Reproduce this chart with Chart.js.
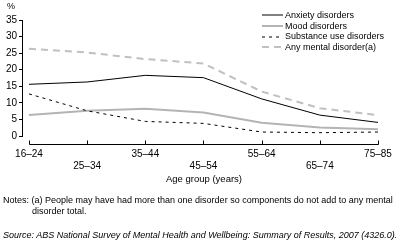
<!DOCTYPE html>
<html>
<head>
<meta charset="utf-8">
<script src="https://cdn.jsdelivr.net/npm/chart.js@4/dist/chart.umd.min.js"></script>
<style>
  html, body { margin:0; padding:0; background:#fff; }
  body { width:397px; height:246px; position:relative; overflow:hidden; font-family:"Liberation Sans", Arial, sans-serif; color:#000; }
  #wrap { position:absolute; left:0; top:0; width:397px; height:190px; }
  .txt { position:absolute; white-space:nowrap; font-size:9px; line-height:10px; }
  #legend { position:absolute; left:262px; top:10px; font-size:9px; line-height:10.7px; }
  #legend div { height:10.7px; display:flex; align-items:center; white-space:nowrap; }
  #legend svg { margin-right:2px; }
</style>
</head>
<body>
<div id="wrap"><canvas id="c"></canvas></div>
<div class="txt" style="left:7px; top:1px; font-size:9px;">%</div>
<div id="legend"></div>
<div class="txt" id="xtitle" style="left:0; width:408px; text-align:center; top:174px; font-size:9.5px;">Age group (years)</div>
<div class="txt" style="left:3px; top:195px;">Notes: (a) People may have had more than one disorder so components do not add to any mental</div>
<div class="txt" style="left:32px; top:206px;">disorder total.</div>
<div class="txt" style="left:3px; top:230px; font-style:italic;">Source: ABS National Survey of Mental Health and Wellbeing: Summary of Results, 2007 (4326.0).</div>
<script>
const categories = ['16–24','25–34','35–44','45–54','55–64','65–74','75–85'];
const anxiety   = [15.6, 16.3, 18.3, 17.6, 11.2, 6.3, 4.1];
const mood      = [6.3, 7.6, 8.2, 7.1, 4.0, 2.6, 2.0];
const substance = [12.7, 7.6, 4.4, 3.8, 1.2, 1.0, 1.2];
const anyDisorder = [26.3, 25.2, 23.2, 21.9, 13.4, 8.4, 6.3];
const seriesNames = ['Anxiety disorders','Mood disorders','Substance use disorders','Any mental disorder(a)'];
const yTicks = [0,5,10,15,20,25,30,35];

const styles = [
  {color:'#000000', width:1, dash:[]},
  {color:'#b4b4b4', width:2, dash:[]},
  {color:'#000000', width:1, dash:[3,4]},
  {color:'#c0c0c0', width:2, dash:[7,5]}
];
const seriesData = [anxiety, mood, substance, anyDisorder];

const datasets = seriesData.map((vals, k) => ({
  label: seriesNames[k],
  data: vals.map((v, i) => ({x: i, y: v})),
  borderColor: styles[k].color,
  borderWidth: styles[k].width,
  borderDash: styles[k].dash,
  pointRadius: 0,
  tension: 0,
  fill: false
}));
datasets.reverse();

const leg = document.getElementById('legend');
seriesNames.forEach((n, k) => {
  const s = styles[k];
  const row = document.createElement('div');
  row.innerHTML = `<svg width="21" height="4"><line x1="0" y1="2" x2="21" y2="2" stroke="${s.color}" stroke-width="${s.width}" stroke-dasharray="${s.dash.join(',')}"/></svg><span>${n}</span>`;
  leg.appendChild(row);
});

const xAxisLine = {
  id: 'xAxisLine',
  afterDraw(chart) {
    const x = chart.scales.x, ctx = chart.ctx;
    const y = Math.round(chart.chartArea.bottom + 8) + 0.5;
    ctx.save();
    ctx.strokeStyle = '#000';
    ctx.lineWidth = 1;
    ctx.beginPath();
    const x0 = Math.round(x.getPixelForValue(0)) + 0.5;
    const x1 = Math.round(x.getPixelForValue(categories.length - 1)) + 0.5;
    ctx.moveTo(x0, y); ctx.lineTo(x1, y);
    categories.forEach((c, i) => {
      const px = Math.round(x.getPixelForValue(i)) + 0.5;
      ctx.moveTo(px, y); ctx.lineTo(px, y - 4);
    });
    ctx.stroke();
    ctx.restore();
  }
};

new Chart(document.getElementById('c'), {
  type: 'line',
  data: { datasets },
  options: {
    responsive: true,
    maintainAspectRatio: false,
    animation: false,
    layout: { padding: { left: 0, right: 19, top: 20, bottom: 0 } },
    plugins: { legend: { display: false }, tooltip: { enabled: false } },
    scales: {
      x: {
        type: 'linear',
        min: -0.12,
        max: categories.length - 1,
        afterBuildTicks: s => { s.ticks = categories.map((c, i) => ({value: i})); },
        afterFit: s => { s.height = 54; },
        border: { display: false },
        grid: { display: false },
        ticks: {
          autoSkip: false, maxRotation: 0, padding: 4,
          color: '#000',
          font: { family: '"Liberation Sans", Arial, sans-serif', size: 10, lineHeight: 1.2 },
          callback: (v) => (v % 2 === 1 ? ['', categories[v]] : categories[v])
        }
      },
      y: {
        min: 0, max: 35,
        afterBuildTicks: s => { s.ticks = yTicks.map(v => ({value: v})); },
        afterFit: s => { s.width = 22; },
        border: { display: true, color: '#000', width: 1 },
        grid: { drawOnChartArea: false, drawTicks: true, tickLength: 3, color: '#000' },
        ticks: {
          padding: 2, color: '#000',
          font: { family: '"Liberation Sans", Arial, sans-serif', size: 10 }
        }
      }
    }
  },
  plugins: [xAxisLine]
});
</script>
</body>
</html>
